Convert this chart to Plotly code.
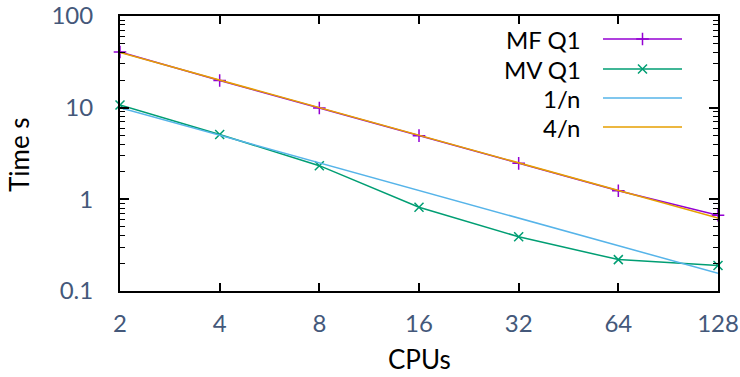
import plotly.graph_objects as go

cpus = [2, 4, 8, 16, 32, 64, 128]
mf_q1 = [40.5, 19.8, 9.9, 4.95, 2.47, 1.24, 0.67]
mv_q1 = [10.7, 5.1, 2.33, 0.82, 0.39, 0.22, 0.19]
one_over_n = [10, 5, 2.5, 1.25, 0.625, 0.3125, 0.156]
four_over_n = [40, 20, 10, 5, 2.5, 1.25, 0.625]

names = ["MF Q1", "MV Q1", "1/n", "4/n"]
colors = ["#9400d3", "#009e73", "#56b4e9", "#e69f00"]
symbols = ["cross-thin-open", "x-thin-open", None, None]
series = [mf_q1, mv_q1, one_over_n, four_over_n]

ytick_vals = [0.1, 1, 10, 100]
ytick_text = ["0.1", "1", "10", "100"]
xtick_text = [str(c) for c in cpus]

W, H = 740, 377
L, R, T, B = 120, 22, 16, 86
PW, PH = W - L - R, H - T - B
TICKCOL = "#44587a"
FONT = "Lato"
FS = 24
TITLE_FS = 26

fig = go.Figure()
for name, col, sym, vals in zip(names, colors, symbols, series):
    fig.add_trace(go.Scatter(
        x=cpus, y=vals, name=name,
        mode="lines+markers" if sym else "lines",
        line=dict(color=col, width=1.5),
        marker=dict(symbol=sym, size=9, line=dict(color=col, width=1.5)) if sym else None,
        showlegend=False, xaxis="x", yaxis="y", cliponaxis=False,
    ))

# manual legend (gnuplot style: text on the left, sample on the right)
leg_rows = [39, 69, 98, 127]
x_text, x0, x1 = 583, 603, 682
for name, col, sym, yrow in zip(names, colors, symbols, leg_rows):
    fig.add_trace(go.Scatter(
        x=[x0, x1], y=[yrow, yrow], mode="lines",
        line=dict(color=col, width=1.5), showlegend=False,
        xaxis="x2", yaxis="y2", hoverinfo="skip"))
    if sym:
        fig.add_trace(go.Scatter(
            x=[(x0 + x1) / 2], y=[yrow], mode="markers",
            marker=dict(symbol=sym, size=9, color=col, line=dict(color=col, width=1.5)),
            showlegend=False, xaxis="x2", yaxis="y2", hoverinfo="skip"))
    fig.add_annotation(x=x_text, y=yrow, xref="x2", yref="y2", text=name,
                       showarrow=False, xanchor="right", yanchor="middle",
                       font=dict(family=FONT, size=FS, color="black"))

minor_vals = [m * d for d in [0.1, 1, 10] for m in range(2, 10)]

fig.update_layout(
    width=W, height=H,
    margin=dict(l=L, r=R, t=T, b=B, autoexpand=False),
    paper_bgcolor="white", plot_bgcolor="white",
    font=dict(family=FONT, size=FS, color=TICKCOL),
    xaxis=dict(
        type="log", range=[0.30102, 2.10722], tickvals=cpus, ticktext=xtick_text,
        ticks="inside", ticklen=8, tickwidth=1.5, tickcolor="black",
        showline=True, linecolor="black", linewidth=2, mirror="allticks",
        showgrid=False, zeroline=False, ticklabelstandoff=10, automargin=False,
        tickfont=dict(family=FONT, size=FS, color=TICKCOL),
    ),
    yaxis=dict(
        type="log", range=[-1.0001, 2.0001], tickvals=ytick_vals, ticktext=ytick_text,
        ticks="inside", ticklen=9, tickwidth=1.5, tickcolor="black",
        showline=True, linecolor="black", linewidth=2, mirror="allticks",
        showgrid=False, zeroline=False, ticklabelstandoff=20, automargin=False,
        minor=dict(tickvals=minor_vals, ticks="inside", ticklen=5, tickwidth=1.2,
                   tickcolor="black", showgrid=False),
        tickfont=dict(family=FONT, size=FS, color=TICKCOL),
    ),
    xaxis2=dict(range=[L, W - R], overlaying="x", visible=False, fixedrange=True),
    yaxis2=dict(range=[H - B, T], overlaying="y", visible=False, fixedrange=True),
    showlegend=False,
)

fig.add_annotation(x=0.5, y=(H - B - 359) / PH, xref="paper", yref="paper", text="CPUs",
                   showarrow=False, font=dict(family=FONT, size=TITLE_FS, color="black"),
                   xanchor="center", yanchor="middle")
fig.add_annotation(x=(19 - L) / PW, y=(H - B - 155) / PH, xref="paper", yref="paper",
                   text="Time s", showarrow=False, textangle=-90,
                   xanchor="center", yanchor="middle",
                   font=dict(family=FONT, size=TITLE_FS, color="black"))

fig.write_html("out.html", config={"displayModeBar": False},
               post_script="document.body.style.margin='0';document.body.style.padding='0';")
